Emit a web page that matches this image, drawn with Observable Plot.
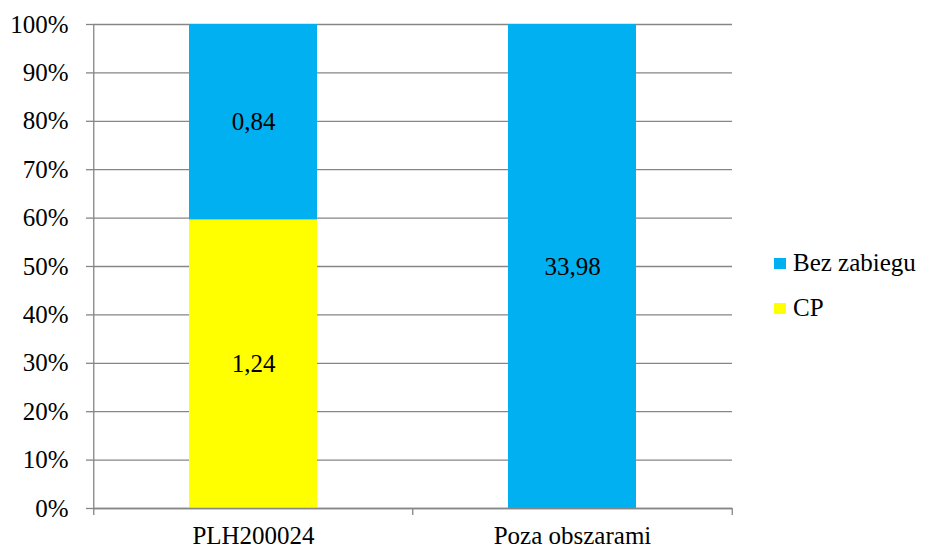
<!DOCTYPE html>
<html>
<head>
<meta charset="utf-8">
<script src="https://cdn.jsdelivr.net/npm/d3@7"></script>
<script src="https://cdn.jsdelivr.net/npm/@observablehq/plot@0.6"></script>
<style>
  html, body { margin: 0; padding: 0; background: #fff; }
  #wrap { position: relative; width: 925px; height: 549px; font-family: "Liberation Serif", "DejaVu Serif", "Times New Roman", serif; }
  #wrap svg text { font-family: "Liberation Serif", "DejaVu Serif", "Times New Roman", serif; }
  #legend { position: absolute; left: 774px; top: 250px; font-size: 25px; color: #000; }
  #legend .row { display: flex; align-items: center; height: 26px; margin-bottom: 19px; }
  #legend .sw { width: 12px; height: 11px; margin-right: 7px; }
</style>
</head>
<body>
<div id="wrap"><div id="legend"></div></div>
<script>
// Areas and treatment shares (ha)
const categories = ["PLH200024", "Poza obszarami"];
const series = ["CP", "Bez zabiegu"];
const cpValues = [1.24, 0];
const bezZabieguValues = [0.84, 33.98];
const colors = ["#FFFF00", "#00B0F0"];
const yTicks = [0, 0.1, 0.2, 0.3, 0.4, 0.5, 0.6, 0.7, 0.8, 0.9, 1];
const legendOrder = ["Bez zabiegu", "CP"];

const rows = [];
categories.forEach((c, i) => {
  rows.push({category: c, series: series[0], value: cpValues[i]});
  rows.push({category: c, series: series[1], value: bezZabieguValues[i]});
});
const data = rows.filter(d => d.value > 0);

const W = 925, H = 549;
const mL = 93, mR = 193, mT = 24, mB = 41;
const halfStep = (W - mL - mR) / categories.length / 2;
const grid = "#868686";
const fmt = v => v.toFixed(2).replace(".", ",");

const chart = Plot.plot({
  width: W,
  height: H,
  marginLeft: mL,
  marginRight: mR,
  marginTop: mT,
  marginBottom: mB,
  style: {fontFamily: "Liberation Serif, DejaVu Serif, serif", fontSize: "25px", color: "#000", background: "#fff"},
  x: {domain: categories, paddingInner: 0.6, paddingOuter: 0.3, label: null},
  y: {domain: [0, 1], label: null},
  color: {domain: series, range: colors},
  marks: [
    Plot.gridY(yTicks, {stroke: grid, strokeOpacity: 1, strokeWidth: 1.3}),
    Plot.barY(data, {x: "category", y: "value", fill: "series", offset: "normalize"}),
    Plot.text(data, Plot.stackY({x: "category", y: "value", z: "series", offset: "normalize", text: d => fmt(d.value), fill: "#000"})),
    // vertical axis line on the left edge
    Plot.ruleX([categories[0]], {dx: -halfStep, y1: 0, y2: 1, stroke: grid, strokeWidth: 1.3}),
    Plot.ruleY([0], {stroke: grid, strokeWidth: 1.3}),
    Plot.axisY({ticks: yTicks, tickSize: 7, tickPadding: 18, tickFormat: d3.format(".0%"), stroke: grid, strokeWidth: 1.3, label: null}),
    // category boundary ticks
    Plot.axisX({tickSize: 7, dx: -halfStep, tickFormat: () => "", stroke: grid, strokeWidth: 1.3, label: null}),
    Plot.axisX({ticks: [categories[categories.length - 1]], tickSize: 7, dx: halfStep, tickFormat: () => "", stroke: grid, strokeWidth: 1.3, label: null}),
    Plot.axisX({tickSize: 0, tickPadding: 18, label: null})
  ]
});
const wrap = document.getElementById("wrap");
wrap.insertBefore(chart, wrap.firstChild);

const legend = document.getElementById("legend");
legendOrder.forEach(name => {
  const row = document.createElement("div");
  row.className = "row";
  const sw = document.createElement("span");
  sw.className = "sw";
  sw.style.background = colors[series.indexOf(name)];
  const label = document.createElement("span");
  label.textContent = name;
  row.appendChild(sw);
  row.appendChild(label);
  legend.appendChild(row);
});
</script>
</body>
</html>
